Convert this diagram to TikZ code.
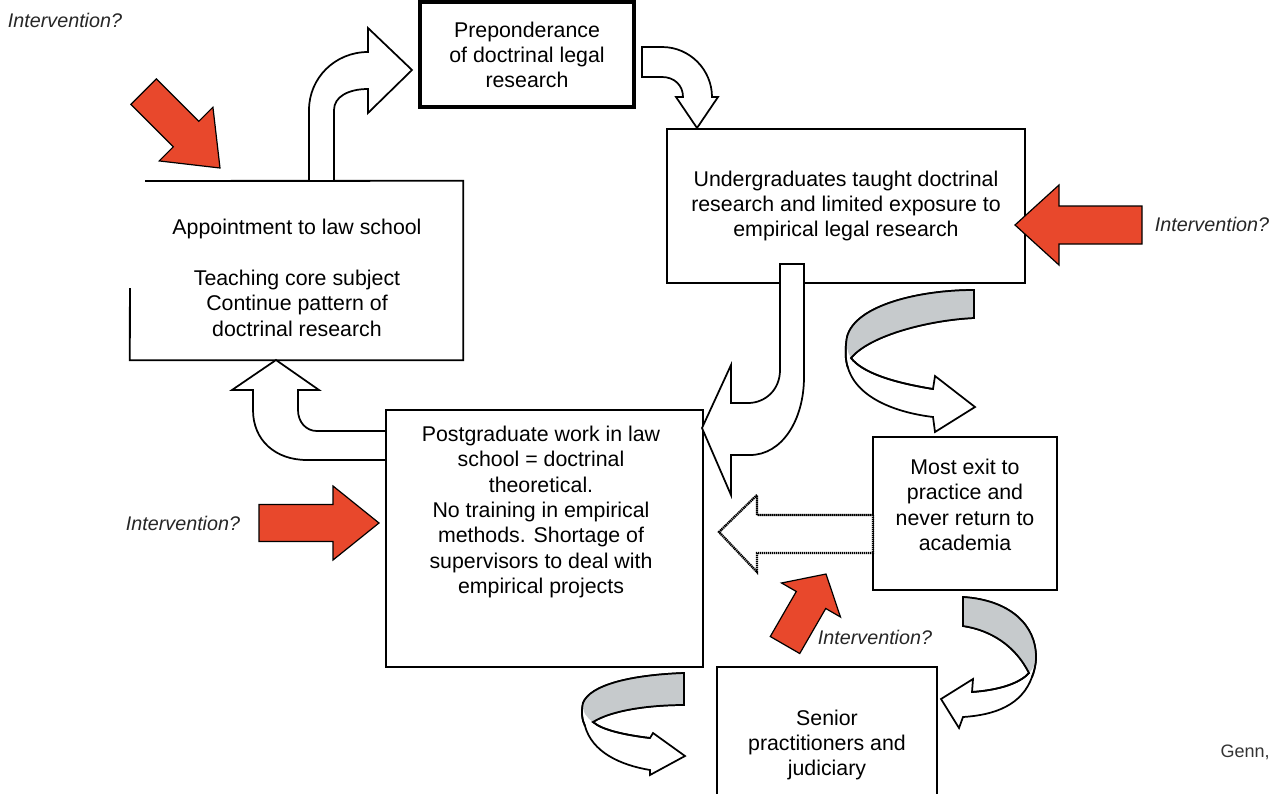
\documentclass[tikz,border=0pt]{standalone}
\usepackage{fontspec}
\setmainfont{Liberation Sans}
\usetikzlibrary{fit}
\definecolor{interorange}{RGB}{232,72,44}
\definecolor{ribbongray}{RGB}{198,202,204}
\tikzset{
  box/.style={draw, line width=1.4pt, inner sep=0pt},
  boxline/.style={line width=1.4pt},
  thickbox/.style={draw, line width=3pt, inner sep=0pt},
  txt/.style={font=\fontsize{16}{19}\selectfont, align=center, inner sep=0pt},
  itxt/.style={font=\fontsize{14.8}{18}\selectfont\itshape, text=black!85, inner sep=0pt},
  whitearrow/.style={draw, line width=1.3pt, fill=white, line join=miter},
  dotarrow/.style={draw, line width=1.8pt, fill=white, dash pattern=on 1pt off 0.5pt},
  redarrow/.style={draw, line width=0.9pt, fill=interorange, line join=miter},
  ribbon/.style={draw, line width=1.3pt, fill=white, line join=miter},
  ribbonback/.style={fill=ribbongray},
  pics/redarr/.style n args={4}{code={
    \draw[redarrow] (0,0) -- (-#4,#3/2) -- (-#4,#2/2) -- (-#1,#2/2) -- (-#1,-#2/2) -- (-#4,-#2/2) -- (-#4,-#3/2) -- cycle;}}
}
\begin{document}
\begin{tikzpicture}[x=0.75pt,y=-0.75pt]
\useasboundingbox (0,0) rectangle (1277,793);

% ---------- boxes ----------
\node[thickbox, fit={(420,2)(634,107)}] (prep) {};
\node[box, fit={(667,129)(1025,283)}] (under) {};
\node[inner sep=0pt, fit={(130,181)(463,360)}] (appoint) {};
\draw[boxline] (145,181) -- (appoint.north east) -- (appoint.south east) -- (appoint.south west) -- (130,288);
\node[box, fit={(386,410)(703,667)}] (post) {};
\node[box, fit={(873,437)(1057,590)}] (exit) {};
\draw[boxline] (717,800) -- (717,667) coordinate (seniorTL) -- (937,667) coordinate (seniorTR) -- (937,800);

% ---------- texts ----------
\node[txt] (preptxt) at (527,55) {Preponderance\\of doctrinal legal\\research};
\node[txt] (undertxt) at (846,206) {Undergraduates taught doctrinal\\research and limited exposure to\\empirical legal research};
\node[txt] (appointtxt) at (297,278) {Appointment to law school\\[19pt]Teaching core subject\\Continue pattern of\\doctrinal research};
\node[txt] (posttxt) at (541,512) {Postgraduate work in law\\school = doctrinal\\theoretical.\\No training in empirical\\methods. Shortage of\\supervisors to deal with\\empirical projects};
\node[txt] (exittxt) at (965,505) {Most exit to\\practice and\\never return to\\academia};
\node[txt] (seniortxt) at (827,745) {Senior\\practitioners and\\judiciary};
\node[font=\fontsize{13.5}{16}\selectfont, text=black!80, inner sep=0pt] (genn) at (1245,752) {Genn,};

\node[itxt] (int1) at (65,20) {Intervention?};
\node[itxt] (int2) at (1212,224) {Intervention?};
\node[itxt] (int3) at (183,523) {Intervention?};
\node[itxt] (int4) at (875,637) {Intervention?};

% ---------- white block arrows ----------
% appointment -> preponderance
\draw[whitearrow] (309,181) -- (309,110) .. controls (309,78) and (335,52) .. (368,52)
  -- (368,28) -- (412,70) -- (368,113) -- (368,89)
  .. controls (348,89) and (334,97) .. (334,110) -- (334,181) -- cycle;
% preponderance -> undergraduates
\draw[whitearrow] (642,47) -- (662,47) .. controls (690,47) and (712,70) .. (712,97)
  -- (718,97) -- (697,128) -- (676,97) -- (683,97)
  .. controls (683,85) and (674,77) .. (662,77) -- (642,77) -- cycle;
% undergraduates -> postgraduate
\draw[whitearrow] (780,264) -- (780,370) .. controls (780,390) and (765,403) .. (748,403)
  -- (731,403) -- (731,365) -- (702,428) -- (731,495) -- (731,455) -- (750,455)
  .. controls (782,455) and (804,420) .. (804,377) -- (804,264) -- cycle;
% postgraduate -> appointment
\draw[whitearrow] (386,431) -- (317,431) .. controls (306,431) and (298,422) .. (298,410)
  -- (298,390) -- (319,390) -- (276,360) -- (232,390) -- (253,390) -- (253,410)
  .. controls (253,440) and (275,460) .. (307,460) -- (386,460) -- cycle;
% exit -> postgraduate (dotted)
\draw[dotarrow] (873,515) -- (757,515) -- (757,495) -- (719,532) -- (757,572) -- (757,553) -- (873,553) -- cycle;

% ---------- ribbons ----------
% undergraduates -> exit
\draw[ribbon] (974,290) .. controls (920,290) and (855,305) .. (847,337)
  .. controls (845,348) and (845,360) .. (848,368)
  .. controls (858,400) and (900,413) .. (933,417) -- (935,432) -- (975,407) -- (935,376) -- (933,389)
  .. controls (890,382) and (862,372) .. (851,358)
  .. controls (870,335) and (930,320) .. (974,318) -- cycle;
\fill[ribbonback] (974,290) .. controls (920,290) and (855,305) .. (847,337)
  .. controls (846,345) and (847,352) .. (851,358)
  .. controls (870,335) and (930,320) .. (974,318) -- cycle;
\draw[line width=1.3pt, line join=miter] (974,290) .. controls (920,290) and (855,305) .. (847,337)
  .. controls (845,348) and (845,360) .. (848,368);
\draw[line width=1.3pt] (933,389) .. controls (890,382) and (862,372) .. (851,358)
  .. controls (870,335) and (930,320) .. (974,318) -- (974,290);

% exit -> senior
\draw[ribbon] (963,597) .. controls (1010,600) and (1036,625) .. (1036,657)
  .. controls (1036,665) and (1034,672) .. (1032,677)
  .. controls (1022,705) and (995,715) .. (963,717) -- (959,728) -- (941,699) -- (973,679) -- (972,692)
  .. controls (1000,690) and (1020,683) .. (1029,673)
  .. controls (1015,645) and (990,630) .. (963,626) -- cycle;
\fill[ribbonback] (963,597) .. controls (1010,600) and (1036,625) .. (1036,657)
  .. controls (1036,664) and (1033,669) .. (1029,673)
  .. controls (1015,645) and (990,630) .. (963,626) -- cycle;
\draw[line width=1.3pt] (963,597) .. controls (1010,600) and (1036,625) .. (1036,657)
  .. controls (1036,665) and (1034,672) .. (1032,677);
\draw[line width=1.3pt] (972,692) .. controls (1000,690) and (1020,683) .. (1029,673)
  .. controls (1015,645) and (990,630) .. (963,626) -- (963,597);

% senior -> postgraduate side
\draw[ribbon] (684,673) .. controls (630,675) and (590,685) .. (583,703)
  .. controls (581,712) and (582,720) .. (585,726)
  .. controls (592,752) and (620,765) .. (650,770) -- (650,775) -- (685,756) -- (653,733) -- (650,738)
  .. controls (625,735) and (602,730) .. (593,722)
  .. controls (612,710) and (650,705) .. (684,705) -- cycle;
\fill[ribbonback] (684,673) .. controls (630,675) and (590,685) .. (583,703)
  .. controls (582,712) and (587,718) .. (593,722)
  .. controls (612,710) and (650,705) .. (684,705) -- cycle;
\draw[line width=1.3pt] (684,673) .. controls (630,675) and (590,685) .. (583,703)
  .. controls (581,712) and (582,720) .. (585,726);
\draw[line width=1.3pt] (650,738) .. controls (625,735) and (602,730) .. (593,722)
  .. controls (612,710) and (650,705) .. (684,705) -- (684,673);

% ---------- intervention arrows ----------
\pic[rotate=-45] at (220,168) {redarr={108}{36}{76}{48}};
\pic[rotate=180] at (1015,225) {redarr={127}{38}{80}{44}};
\pic at (379,523) {redarr={120}{37}{74}{46}};
\pic[rotate=60] at (826,574) {redarr={82}{34}{68}{30}};
\end{tikzpicture}
\end{document}
